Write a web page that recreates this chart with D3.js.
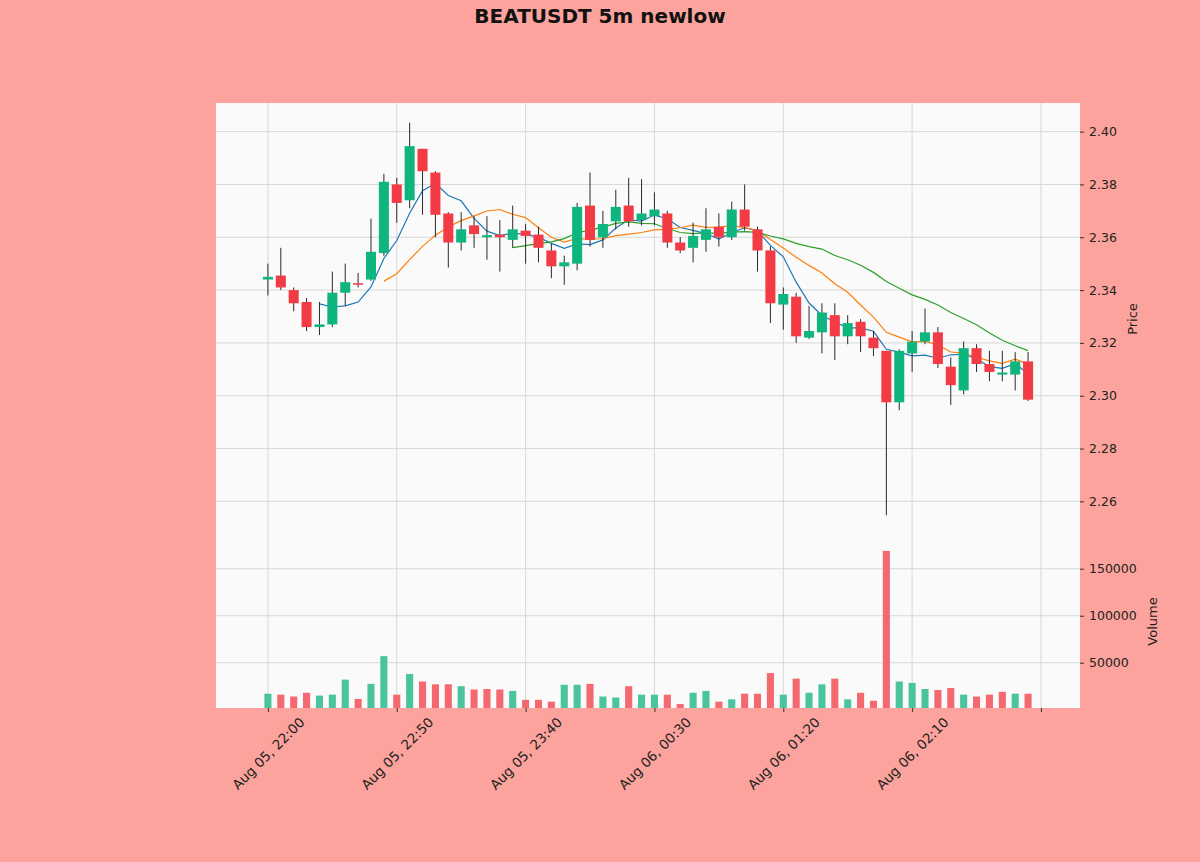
<!DOCTYPE html>
<html>
<head>
<meta charset="utf-8">
<script src="https://cdn.jsdelivr.net/npm/d3@7"></script>
<style>
  body { margin: 0; background: #fba39c; }
  svg { display: block; font-family: "DejaVu Sans", sans-serif; }
</style>
</head>
<body>
<svg class="face" width="1200" height="862"></svg>
<script>
// 5m candles, Aug 05 22:00 -> Aug 06 02:55
const startTime = new Date(2025, 7, 5, 22, 0);
const opens = [2.344, 2.3455, 2.340, 2.3355, 2.326, 2.327, 2.339, 2.3426, 2.344, 2.354,
  2.380, 2.374, 2.3935, 2.3845, 2.369, 2.358, 2.3645, 2.3600, 2.3610, 2.359,
  2.3625, 2.361, 2.355, 2.349, 2.350, 2.372, 2.360, 2.366, 2.372, 2.3665,
  2.368, 2.369, 2.358, 2.356, 2.359, 2.364, 2.360, 2.3705, 2.363, 2.355,
  2.3345, 2.3375, 2.322, 2.324, 2.3305, 2.3225, 2.328, 2.322, 2.317, 2.2975,
  2.316, 2.3205, 2.324, 2.311, 2.302, 2.318, 2.312, 2.3080, 2.308, 2.313];
const highs = [2.350, 2.356, 2.341, 2.337, 2.3355, 2.347, 2.350, 2.3465, 2.367, 2.384,
  2.3825, 2.4034, 2.3935, 2.385, 2.3695, 2.3695, 2.368, 2.368, 2.3665, 2.372,
  2.365, 2.364, 2.3575, 2.353, 2.373, 2.3845, 2.370, 2.378, 2.3825, 2.382,
  2.377, 2.370, 2.360, 2.3655, 2.371, 2.369, 2.3735, 2.380, 2.364, 2.3565,
  2.341, 2.339, 2.334, 2.335, 2.335, 2.3305, 2.329, 2.3245, 2.317, 2.3175,
  2.3245, 2.333, 2.326, 2.3145, 2.3205, 2.3195, 2.317, 2.317, 2.3165, 2.3165];
const lows = [2.338, 2.340, 2.332, 2.3245, 2.323, 2.326, 2.334, 2.341, 2.3435, 2.353,
  2.3655, 2.371, 2.3685, 2.360, 2.3485, 2.355, 2.356, 2.3515, 2.347, 2.356,
  2.350, 2.3505, 2.3445, 2.342, 2.3475, 2.3565, 2.356, 2.363, 2.364, 2.3645,
  2.3645, 2.356, 2.354, 2.3505, 2.3545, 2.3565, 2.359, 2.3625, 2.347, 2.3275,
  2.325, 2.320, 2.3215, 2.316, 2.3135, 2.3195, 2.3165, 2.315, 2.2547, 2.2945,
  2.309, 2.3195, 2.3105, 2.2965, 2.3005, 2.309, 2.3055, 2.3055, 2.302, 2.298];
const closes = [2.345, 2.341, 2.335, 2.326, 2.327, 2.339, 2.343, 2.3424, 2.3545, 2.381,
  2.373, 2.3945, 2.385, 2.3685, 2.358, 2.363, 2.3612, 2.3608, 2.360, 2.363,
  2.3605, 2.356, 2.349, 2.3505, 2.3715, 2.359, 2.365, 2.3715, 2.366, 2.369,
  2.3705, 2.358, 2.355, 2.3605, 2.363, 2.360, 2.3705, 2.364, 2.355, 2.335,
  2.3385, 2.3225, 2.3245, 2.3315, 2.3225, 2.3275, 2.3225, 2.318, 2.2975, 2.317,
  2.3205, 2.324, 2.312, 2.304, 2.318, 2.312, 2.309, 2.3088, 2.313, 2.2985];
const volumes = [17000, 16000, 14000, 18000, 15000, 16000, 32000, 11500, 27500, 57000,
  16000, 38000, 30000, 27000, 27000, 25000, 21500, 22000, 21500, 20000,
  10500, 10500, 8500, 26500, 26500, 27500, 14000, 13000, 25000, 16000,
  16000, 16000, 6000, 18000, 20000, 8500, 11000, 17000, 17000, 39000,
  16000, 33000, 18000, 27000, 33000, 11000, 18000, 9500, 169000, 30000,
  28500, 22000, 21000, 23000, 16000, 14000, 16000, 19000, 17000, 17000];
const mavWindows = [5, 10, 20];
const mavColors = ['#1f77b4', '#ff7f0e', '#2ca02c'];
const priceTicks = [2.26, 2.28, 2.30, 2.32, 2.34, 2.36, 2.38, 2.40];
const volumeTicks = [50000, 100000, 150000];
const xTickIdx = [0, 10, 20, 30, 40, 50, 60];

const upColor = '#0fb57f', downColor = '#f33b45';
const volUp = '#49c49c', volDown = '#f4686f';

const svg = d3.select('.face');
const W = +svg.attr('width');
const plotLeft = 216, plotRight = 1080, plotTop = 103, mainBottom = 535, plotBottom = 708;

svg.append('rect').attr('width', W).attr('height', +svg.attr('height')).attr('fill', '#fba39c');
svg.append('rect').attr('x', plotLeft).attr('y', plotTop)
  .attr('width', plotRight - plotLeft).attr('height', plotBottom - plotTop).attr('fill', '#fafafa');

const n = closes.length;
const idx = d3.range(n);
const x = d3.scaleLinear().domain([-4.03, n - 1 + 4.03]).range([plotLeft, plotRight]);
const step = x(1) - x(0);

const minLow = d3.min(lows), maxHigh = d3.max(highs);
const pad = 0.05 * (maxHigh - minLow);
const y = d3.scaleLinear().domain([minLow - pad, maxHigh + pad]).range([mainBottom, plotTop]);
const yv = d3.scaleLinear().domain([0.3 * d3.min(volumes), 1.1 * d3.max(volumes)]).range([plotBottom, mainBottom]);

const fmtTime = d3.timeFormat('%b %d, %H:%M');
const timeAt = i => new Date(startTime.getTime() + i * 5 * 60000);

// grid
const grid = svg.append('g').attr('stroke', '#d4d4d4').attr('stroke-width', 0.9);
grid.selectAll('.gx').data(xTickIdx).join('line')
  .attr('x1', d => x(d)).attr('x2', d => x(d)).attr('y1', plotTop).attr('y2', plotBottom);
grid.selectAll('.gy').data(priceTicks).join('line')
  .attr('x1', plotLeft).attr('x2', plotRight).attr('y1', d => y(d)).attr('y2', d => y(d));
grid.selectAll('.gv').data(volumeTicks).join('line')
  .attr('x1', plotLeft).attr('x2', plotRight).attr('y1', d => yv(d)).attr('y2', d => yv(d));

// moving averages
mavWindows.forEach((w, k) => {
  const pts = idx.filter(i => i >= w - 1)
    .map(i => [i, d3.mean(closes.slice(i - w + 1, i + 1))]);
  svg.append('path')
    .attr('d', d3.line().x(d => x(d[0])).y(d => y(d[1]))(pts))
    .attr('fill', 'none').attr('stroke', mavColors[k]).attr('stroke-width', 1.2);
});

// candles
const bodyW = step * 0.78;
const candles = svg.append('g');
candles.selectAll('line').data(idx).join('line')
  .attr('x1', i => x(i)).attr('x2', i => x(i))
  .attr('y1', i => y(highs[i])).attr('y2', i => y(lows[i]))
  .attr('stroke', '#2a2a2a').attr('stroke-width', 1);
candles.selectAll('rect').data(idx).join('rect')
  .attr('x', i => x(i) - bodyW / 2).attr('width', bodyW)
  .attr('y', i => y(Math.max(opens[i], closes[i])))
  .attr('height', i => Math.max(1.5, Math.abs(y(opens[i]) - y(closes[i]))))
  .attr('fill', i => closes[i] >= opens[i] ? upColor : downColor);

// volume
const volW = step * 0.55;
svg.append('g').selectAll('rect').data(idx).join('rect')
  .attr('x', i => x(i) - volW / 2).attr('width', volW)
  .attr('y', i => yv(volumes[i])).attr('height', i => plotBottom - yv(volumes[i]))
  .attr('fill', i => (i === 0 ? closes[i] >= opens[i] : closes[i] >= closes[i - 1]) ? volUp : volDown);

// axes
const axisStyle = g => {
  g.select('.domain').remove();
  g.selectAll('line').attr('stroke', '#333');
  g.selectAll('text').attr('fill', '#222').attr('font-size', 12.5)
    .attr('font-family', '"DejaVu Sans", sans-serif');
};
svg.append('g').attr('transform', `translate(${plotRight},0)`)
  .call(d3.axisRight(y).tickValues(priceTicks).tickFormat(d3.format('.2f')).tickSize(4).tickPadding(5))
  .call(axisStyle);
svg.append('g').attr('transform', `translate(${plotRight},0)`)
  .call(d3.axisRight(yv).tickValues(volumeTicks).tickFormat(d3.format('d')).tickSize(4).tickPadding(5))
  .call(axisStyle);

const xa = svg.append('g').attr('transform', `translate(0,${plotBottom})`)
  .call(d3.axisBottom(x).tickValues(xTickIdx).tickFormat(i => i < n ? fmtTime(timeAt(i)) : '').tickSize(4))
  .call(axisStyle);
xa.selectAll('.tick text').attr('font-size', 13.5).each(function () {
  const t = d3.select(this);
  const w = this.getComputedTextLength();
  const h = 13.5;
  const half = (w + h) * Math.SQRT1_2 / 2;
  t.attr('text-anchor', 'middle').attr('dy', '0.35em')
    .attr('y', 0)
    .attr('transform', `translate(0,${7 + half}) rotate(-45)`);
});

// labels
svg.append('text').attr('transform', `translate(1137,${(plotTop + mainBottom) / 2}) rotate(-90)`)
  .attr('text-anchor', 'middle').attr('font-size', 13).attr('fill', '#222').text('Price');
svg.append('text').attr('transform', `translate(1157,${(mainBottom + plotBottom) / 2}) rotate(-90)`)
  .attr('text-anchor', 'middle').attr('font-size', 13).attr('fill', '#222').text('Volume');

svg.append('text').attr('x', 600).attr('y', 23)
  .attr('text-anchor', 'middle').attr('font-size', 20).attr('font-weight', 'bold')
  .attr('fill', '#111').text('BEATUSDT 5m newlow');
</script>
</body>
</html>
